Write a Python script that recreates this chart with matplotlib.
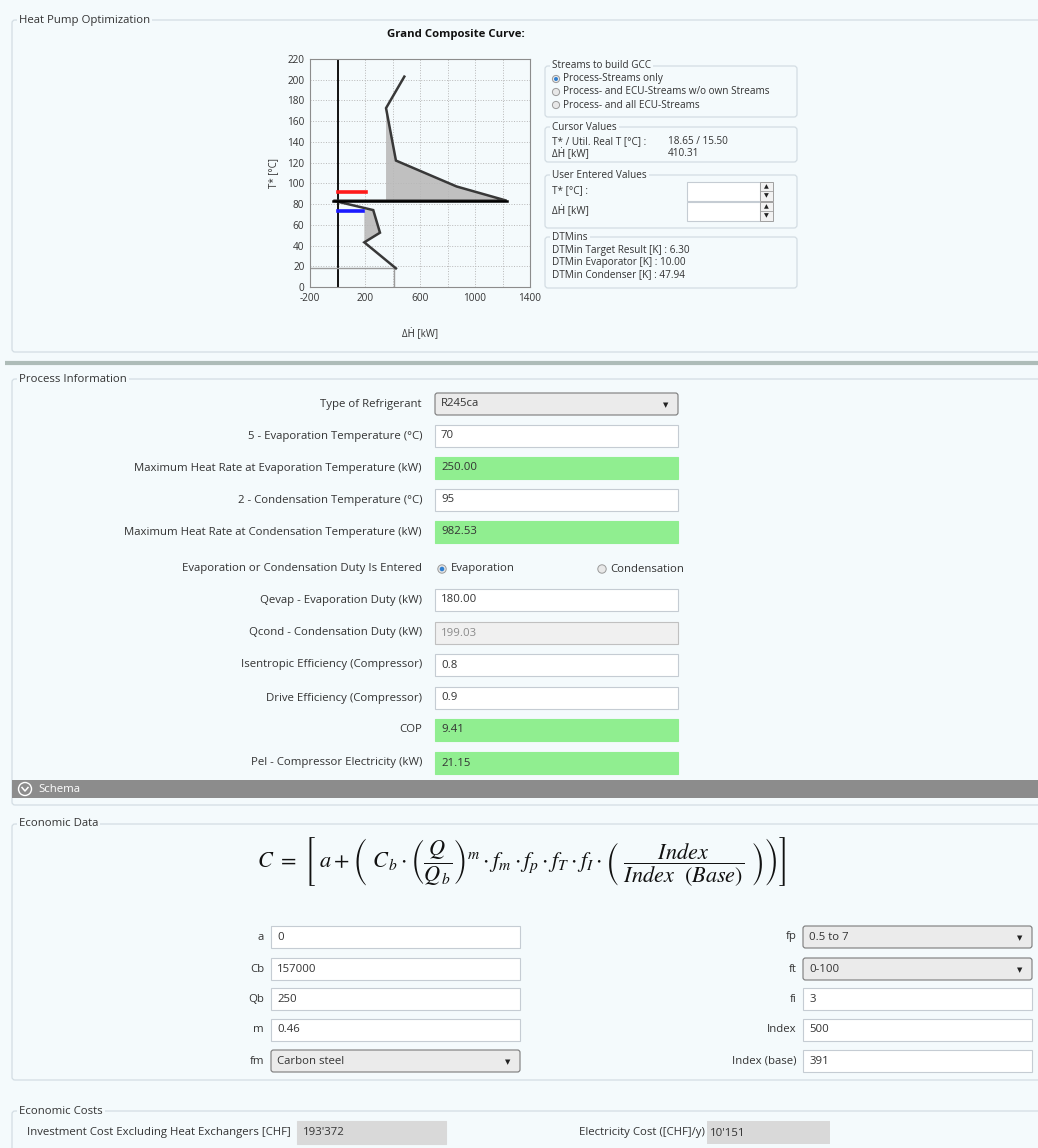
import numpy as np
import matplotlib.pyplot as plt
from matplotlib.patches import FancyBboxPatch, Rectangle, Circle

# Grand Composite Curve (dH kW, T* °C)
gcc_dh = [486, 353, 425, 866, 1230, -30, 260, 309, 195, 425]
gcc_t = [203, 172.6, 122, 97, 83.3, 83.3, 74.2, 52.4, 43.1, 18]
cond_t, cond_dh = 92, 210     # condenser (rot)
evap_t, evap_dh = 73.3, 183   # verdampfer (blau)
cursor_t, cursor_dh = 18.65, 410.31
x_ticks = [-200, 200, 600, 1000, 1400]
y_ticks = list(range(0, 221, 20))

# Seitenpanel
stream_options = ['Process-Streams only', 'Process- and ECU-Streams w/o own Streams', 'Process- and all ECU-Streams']
cursor_labels = ['T* / Util. Real T [°C] :', 'ΔḢ [kW]']
cursor_values = ['18.65 / 15.50', '410.31']
user_labels = ['T* [°C] :', 'ΔḢ [kW]']
dtmin_lines = ['DTMin Target Result [K] : 6.30', 'DTMin Evaporator [K] : 10.00', 'DTMin Condenser [K] : 47.94']

# Process Information
proc_labels = ['Type of Refrigerant', '5 - Evaporation Temperature (°C)',
               'Maximum Heat Rate at Evaporation Temperature (kW)', '2 - Condensation Temperature (°C)',
               'Maximum Heat Rate at Condensation Temperature (kW)', 'Evaporation or Condensation Duty Is Entered',
               'Qevap - Evaporation Duty (kW)', 'Qcond - Condensation Duty (kW)',
               'Isentropic Efficiency (Compressor)', 'Drive Efficiency (Compressor)', 'COP',
               'Pel - Compressor Electricity (kW)']
proc_values = ['R245ca', '70', '250.00', '95', '982.53', '', '180.00', '199.03', '0.8', '0.9', '9.41', '21.15']
proc_kinds = ['combo', 'edit', 'result', 'edit', 'result', 'radio', 'edit', 'disabled', 'edit', 'edit', 'result', 'result']
duty_options = ['Evaporation', 'Condensation']

# Economic Data
eco_left_labels = ['a', 'Cb', 'Qb', 'm', 'fm']
eco_left_values = ['0', '157000', '250', '0.46', 'Carbon steel']
eco_right_labels = ['fp', 'ft', 'fi', 'Index', 'Index (base)']
eco_right_values = ['0.5 to 7', '0-100', '3', '500', '391']
invest_label, invest_value = 'Investment Cost Excluding Heat Exchangers [CHF]', "193'372"
elec_label, elec_value = 'Electricity Cost ([CHF]/y)', "10'151"

bg = '#f4fafc'
border = '#d3dde3'
txt = '#333333'
green = '#90ee90'
FONT = ['Open Sans', 'DejaVu Sans']
plt.rcParams['font.family'] = FONT
plt.rcParams['mathtext.fontset'] = 'stix'
plt.rcParams['axes.unicode_minus'] = False

fig = plt.figure(figsize=(10.38, 11.48), dpi=100, facecolor=bg)
ui = fig.add_axes([0, 0, 1, 1])
ui.set_xlim(0, 1038)
ui.set_ylim(1148, 0)
ui.axis('off')

FS = 8.2   # normale schrift
FS_S = 7.2 # klein (seitenpanel)


def group(x0, y0, x1, y1, title, fs=FS):
    ui.add_patch(FancyBboxPatch((x0, y0), x1 - x0, y1 - y0, boxstyle='round,pad=0,rounding_size=3',
                                fc='none', ec=border, lw=0.9))
    ui.text(x0 + 7, y0, title, va='center', ha='left', fontsize=fs, color=txt,
            bbox=dict(fc=bg, ec='none', pad=1.5))


def box(x0, y0, x1, y1, text='', fc='white', ec='#c5ccd3', tc=txt, fs=FS):
    ui.add_patch(Rectangle((x0, y0), x1 - x0, y1 - y0, fc=fc, ec=ec, lw=0.8))
    if text:
        ui.text(x0 + 6, (y0 + y1) / 2, text, va='center', ha='left', fontsize=fs, color=tc)


def combo(x0, y0, x1, y1, text, fs=FS):
    ui.add_patch(FancyBboxPatch((x0, y0), x1 - x0, y1 - y0, boxstyle='round,pad=0,rounding_size=2.5',
                                fc='#ebebeb', ec='#7a7a7a', lw=0.8))
    ui.text(x0 + 6, (y0 + y1) / 2, text, va='center', ha='left', fontsize=fs, color=txt)
    ui.text(x1 - 12, (y0 + y1) / 2 + 1, '▼', va='center', ha='center', fontsize=5, color='#222',
            family=['DejaVu Sans'])


def radio(x, y, on, r=4.2):
    ui.add_patch(Circle((x, y), r, fc='#e8e8e8', ec='#9a9a9a', lw=0.7))
    if on:
        ui.add_patch(Circle((x, y), r * 0.55, fc='#2f7fd0', ec='none'))


# ---------------- Heat Pump Optimization -----------------
group(12, 20, 1045, 352, 'Heat Pump Optimization')
ui.plot([5, 1038], [363, 363], color='#aebcb8', lw=3, solid_capstyle='butt')

ui.text(456, 34, 'Grand Composite Curve:', ha='center', va='center', fontsize=8.2, fontweight='bold', color='#111')

# Streams to build GCC
group(545, 66, 797, 117, 'Streams to build GCC', FS_S)
for i, s in enumerate(stream_options):
    radio(556, 79 + i * 13, i == 0, r=3.6)
    ui.text(563, 79 + i * 13, s, va='center', fontsize=FS_S, color=txt)

group(545, 127, 797, 162, 'Cursor Values', FS_S)
for i, (l, v) in enumerate(zip(cursor_labels, cursor_values)):
    ui.text(552, 142 + i * 12, l, va='center', fontsize=FS_S, color=txt)
    ui.text(668, 142 + i * 12, v, va='center', fontsize=FS_S, color=txt)

group(545, 175, 797, 228, 'User Entered Values', FS_S)
for i, l in enumerate(user_labels):
    yc = 191 + i * 20
    ui.text(552, yc, l, va='center', fontsize=FS_S, color=txt)
    box(687, yc - 9.5, 760, yc + 9.5)
    ui.add_patch(Rectangle((760, yc - 9.5), 13, 19, fc='#f2f2f2', ec='#a0a0a0', lw=0.7))
    ui.plot([760, 773], [yc, yc], color='#a0a0a0', lw=0.6)
    ui.text(766.5, yc - 4.5, '▲', ha='center', va='center', fontsize=4.5, color='#222', family=['DejaVu Sans'])
    ui.text(766.5, yc + 4.5, '▼', ha='center', va='center', fontsize=4.5, color='#222', family=['DejaVu Sans'])

group(545, 237, 797, 288, 'DTMins', FS_S)
for i, l in enumerate(dtmin_lines):
    ui.text(552, 251 + i * 12, l, va='center', fontsize=FS_S, color=txt)

# ---------------- Process Information -----------------
group(12, 379, 1045, 805, 'Process Information')
proc_rows = [404, 436, 468, 500, 532, 569, 600, 633, 665, 698, 730, 763]
bx0, bx1 = 435, 678
for lab, val, kind, yc in zip(proc_labels, proc_values, proc_kinds, proc_rows):
    ui.text(422, yc, lab, ha='right', va='center', fontsize=FS, color=txt)
    if kind == 'combo':
        combo(bx0, yc - 11, bx1, yc + 11, val)
    elif kind == 'edit':
        box(bx0, yc - 11, bx1, yc + 11, val)
    elif kind == 'result':
        box(bx0, yc - 11, bx1, yc + 11, val, fc=green, ec=green)
    elif kind == 'disabled':
        box(bx0, yc - 11, bx1, yc + 11, val, fc='#f0f0f0', ec='#c0c0c0', tc='#8a8a8a')
    elif kind == 'radio':
        radio(442, yc, True)
        ui.text(451, yc, duty_options[0], va='center', fontsize=FS, color=txt)
        radio(602, yc, False)
        ui.text(610, yc, duty_options[1], va='center', ha='left', fontsize=FS, color=txt)

# Schema-Leiste
ui.add_patch(Rectangle((12, 780), 1030, 18, fc='#8c8c8c', ec='none'))
ui.add_patch(Circle((25, 789), 6.5, fc='none', ec='white', lw=1))
ui.plot([22, 25, 28], [787.5, 791, 787.5], color='white', lw=1.1)
ui.text(38, 789, 'Schema', va='center', fontsize=FS, color='white')

# ---------------- Economic Data -----------------
group(12, 824, 1045, 1080, 'Economic Data')
formula = (r'$C\ =\ \left[\ a+\left(\ C_{\,b}\cdot\left(\dfrac{Q}{Q_{\,b}}\right)^{m}\cdot f_m\cdot f_p\cdot f_T'
           r'\cdot f_I\cdot\left(\ \dfrac{Index}{Index\ \ (Base)}\ \right)\right)\right]$')
ui.text(522, 862, formula, ha='center', va='center', fontsize=16, color='#111')

eco_rows = [937, 969, 999, 1030, 1061]
for lab, val, yc in zip(eco_left_labels, eco_left_values, eco_rows):
    ui.text(264, yc, lab, ha='right', va='center', fontsize=FS, color=txt)
    if lab == 'fm':
        combo(271, yc - 11, 520, yc + 11, val)
    else:
        box(271, yc - 11, 520, yc + 11, val)
for lab, val, yc in zip(eco_right_labels, eco_right_values, eco_rows):
    ui.text(797, yc, lab, ha='right', va='center', fontsize=FS, color=txt)
    if lab in ('fp', 'ft'):
        combo(803, yc - 11, 1032, yc + 11, val)
    else:
        box(803, yc - 11, 1032, yc + 11, val)

# ---------------- Economic Costs -----------------
group(12, 1111, 1045, 1170, 'Economic Costs')
ui.text(27, 1133, invest_label, va='center', fontsize=FS, color=txt)
box(297, 1121, 446, 1144, invest_value, fc='#d9d9d9', ec='#d9d9d9')
ui.text(705, 1133, elec_label, ha='right', va='center', fontsize=FS, color=txt)
ui.add_patch(Rectangle((707, 1121), 123, 23, fc='#d9d9d9', ec='none'))
ui.text(710, 1133, elec_value, va='center', fontsize=FS, color=txt)

# ---------------- GCC Diagramm -----------------
ax = fig.add_axes([310 / 1038, 1 - 287 / 1148, 220 / 1038, 228 / 1148])
ax.set_facecolor('none')
ax.set_xlim(-200, 1400)
ax.set_ylim(0, 220)
ax.set_xticks(x_ticks)
ax.set_xticks(range(-200, 1401, 200), minor=True)
ax.set_yticks(y_ticks)
ax.grid(True, which='both', ls=':', color='#b8b8b8', lw=0.7)
ax.tick_params(which='both', length=0, labelsize=7.2, colors='#333', pad=4)
for sp in ax.spines.values():
    sp.set_color('#8c8c8c')
    sp.set_linewidth(0.8)

# Flächen
ax.fill(gcc_dh[1:5] + [gcc_dh[1]], gcc_t[1:5] + [gcc_t[4]], color='#c0c0c0', lw=0)
ax.fill(gcc_dh[6:9] + [gcc_dh[8]], gcc_t[6:9] + [gcc_t[6]], color='#c0c0c0', lw=0)
ax.axvline(0, color='#111', lw=1.4)
# Cursor
ax.plot([-200, cursor_dh], [cursor_t, cursor_t], color='#9c9c9c', lw=1)
ax.plot([cursor_dh, cursor_dh], [0, cursor_t], color='#9c9c9c', lw=1)
ax.plot(gcc_dh, gcc_t, color='#383838', lw=1.8, solid_joinstyle='miter')
ax.plot(gcc_dh[4:6], gcc_t[4:6], color='#000', lw=1.8)
ax.plot([0, cond_dh], [cond_t, cond_t], color='#ff1a1a', lw=2.6)
ax.plot([0, evap_dh], [evap_t, evap_t], color='#1a1aff', lw=2.6)

ax.set_xlabel('ΔḢ [kW]', fontsize=7, color='#333', labelpad=18)
ax.set_ylabel('T* [°C]', fontsize=7, color='#333', labelpad=6)

fig.savefig('out.png', dpi=100, facecolor=bg)
